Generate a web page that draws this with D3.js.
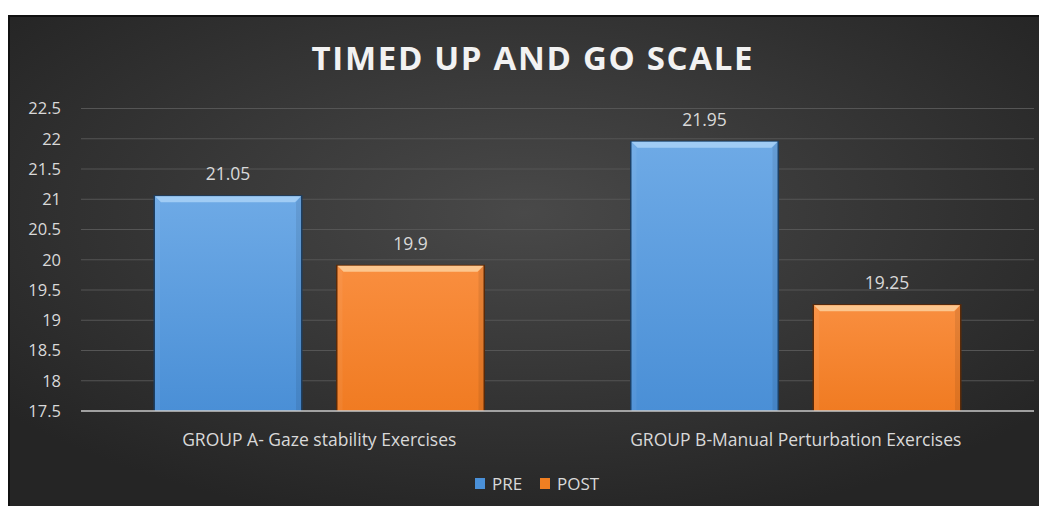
<!DOCTYPE html>
<html>
<head>
<meta charset="utf-8">
<script src="https://cdn.jsdelivr.net/npm/d3@7"></script>
<style>
body { margin: 0; background: #fff; }
svg text { font-family: "Open Sans", "Noto Sans", sans-serif; }
</style>
</head>
<body>
<script>
//data
var groups = ["GROUP A- Gaze stability Exercises", "GROUP B-Manual Perturbation Exercises"];
var seriesNames = ["PRE", "POST"];
var preValues = [21.05, 21.95];
var postValues = [19.9, 19.25];
var yTicks = [17.5, 18, 18.5, 19, 19.5, 20, 20.5, 21, 21.5, 22, 22.5];

window.onload = function(){
    var w = 1039, h = 506;
    var svg = d3.select("body").append("svg")
        .attr("width", w)
        .attr("height", h);

    var defs = svg.append("defs");
    //background gradient (lighter middle)
    var bg = defs.append("radialGradient").attr("id", "bg")
        .attr("cx", "0.5").attr("cy", "0.4").attr("r", "0.65");
    bg.append("stop").attr("offset", "0%").attr("stop-color", "#494949");
    bg.append("stop").attr("offset", "100%").attr("stop-color", "#252525");

    var blue = defs.append("linearGradient").attr("id", "blue")
        .attr("x1", 0).attr("y1", 0).attr("x2", 0).attr("y2", 1);
    blue.append("stop").attr("offset", "0%").attr("stop-color", "#6eaae6");
    blue.append("stop").attr("offset", "100%").attr("stop-color", "#4a8fd6");
    var orange = defs.append("linearGradient").attr("id", "orange")
        .attr("x1", 0).attr("y1", 0).attr("x2", 0).attr("y2", 1);
    orange.append("stop").attr("offset", "0%").attr("stop-color", "#f98e3f");
    orange.append("stop").attr("offset", "100%").attr("stop-color", "#f07b22");

    //frame
    svg.append("rect")
        .attr("x", 8).attr("y", 15)
        .attr("width", w - 8).attr("height", h - 15)
        .style("fill", "#111");
    svg.append("rect")
        .attr("x", 10).attr("y", 17)
        .attr("width", w - 10).attr("height", h - 17)
        .style("fill", "url(#bg)");

    /**** scales ****/
    var x0 = d3.scaleBand()
        .domain(groups)
        .range([81, 1034])
        .paddingInner(0)
        .paddingOuter(0);
    var x1 = d3.scaleBand()
        .domain(seriesNames)
        .range([74, x0.bandwidth() - 74])
        .paddingInner(0.2);
    var y = d3.scaleLinear()
        .domain([17.5, 22.5])
        .range([411, 108.5]);

    //gridlines
    svg.append("g")
        .selectAll("line")
        .data(yTicks.slice(1))
        .enter()
        .append("line")
        .attr("x1", 81).attr("x2", 1034)
        .attr("y1", function(d){ return y(d); })
        .attr("y2", function(d){ return y(d); })
        .style("stroke", "#555")
        .style("stroke-width", 1);

    //y axis labels
    var yAxis = d3.axisLeft(y)
        .tickValues(yTicks)
        .tickSize(0)
        .tickPadding(0)
        .tickFormat(function(d){ return d; });
    var ya = svg.append("g")
        .attr("transform", "translate(61,0)")
        .call(yAxis);
    ya.select(".domain").remove();
    ya.selectAll("text")
        .style("font-family", "'Open Sans', sans-serif")
        .style("font-size", "16.5px")
        .style("fill", "#d9d9d9");

    //title
    svg.append("text")
        .attr("x", 532)
        .attr("y", 70)
        .attr("text-anchor", "middle")
        .attr("textLength", 441)
        .style("font-size", "33px")
        .style("font-weight", "bold")
        .style("fill", "#f2f2f2")
        .text("TIMED UP AND GO SCALE");

    //bars
    var rows = groups.map(function(g, i){
        return [
            { group: g, series: "PRE", value: preValues[i], fill: "url(#blue)", edge: "#1d3f62", top: "#a9d2f7" },
            { group: g, series: "POST", value: postValues[i], fill: "url(#orange)", edge: "#5a2a08", top: "#fdd09c" }
        ];
    });
    var flat = [].concat.apply([], rows);

    var bars = svg.selectAll(".bar")
        .data(flat)
        .enter()
        .append("g")
        .attr("class", "bar")
        .attr("transform", function(d){
            return "translate(" + (x0(d.group) + x1(d.series)) + ",0)";
        });
    var bw = x1.bandwidth();
    bars.append("rect")
        .attr("x", -1.5)
        .attr("y", function(d){ return y(d.value) - 1; })
        .attr("width", bw + 3)
        .attr("height", function(d){ return y(17.5) - y(d.value) + 1; })
        .style("fill", function(d){ return d.edge; });
    bars.append("rect")
        .attr("x", 0)
        .attr("y", function(d){ return y(d.value); })
        .attr("width", bw)
        .attr("height", function(d){ return y(17.5) - y(d.value); })
        .style("fill", function(d){ return d.fill; });
    //bevel top strip
    bars.append("path")
        .attr("d", function(d){
            var t = y(d.value);
            return "M0," + t + "L" + bw + "," + t + "L" + (bw - 6) + "," + (t + 6) + "L6," + (t + 6) + "Z";
        })
        .style("fill", function(d){ return d.top; })
        .style("opacity", 0.85);
    //bevel sides
    bars.append("path")
        .attr("d", function(d){
            var t = y(d.value), b = y(17.5);
            return "M0," + t + "L5," + (t + 6) + "L5," + b + "L0," + b + "Z";
        })
        .style("fill", "#fff")
        .style("opacity", 0.05);
    bars.append("path")
        .attr("d", function(d){
            var t = y(d.value), b = y(17.5);
            return "M" + bw + "," + t + "L" + (bw - 5) + "," + (t + 6) + "L" + (bw - 5) + "," + b + "L" + bw + "," + b + "Z";
        })
        .style("fill", "#000")
        .style("opacity", 0.08);

    //value labels
    bars.append("text")
        .attr("x", bw / 2)
        .attr("y", function(d){ return y(d.value) - 16; })
        .attr("text-anchor", "middle")
        .style("font-size", "17.5px")
        .style("fill", "#d9d9d9")
        .text(function(d){ return d.value; });

    //baseline
    svg.append("line")
        .attr("x1", 81).attr("x2", 1034)
        .attr("y1", y(17.5)).attr("y2", y(17.5))
        .style("stroke", "#c8c8c8")
        .style("stroke-width", 1.5);

    //category labels
    svg.selectAll(".cat")
        .data(groups)
        .enter()
        .append("text")
        .attr("class", "cat")
        .attr("x", function(d){ return x0(d) + x0.bandwidth() / 2; })
        .attr("y", 446)
        .attr("text-anchor", "middle")
        .style("font-size", "17.5px")
        .style("fill", "#d9d9d9")
        .text(function(d){ return d; });

    //legend
    var legendX = [475, 540];
    var colors = ["#4a90d8", "#f07f22"];
    var legend = svg.selectAll(".legend")
        .data(seriesNames)
        .enter()
        .append("g")
        .attr("class", "legend")
        .attr("transform", function(d, i){ return "translate(" + legendX[i] + ",478)"; });
    legend.append("rect")
        .attr("width", 10).attr("height", 11)
        .style("fill", function(d, i){ return colors[i]; });
    legend.append("text")
        .attr("x", 17)
        .attr("y", 12)
        .style("font-size", "17px")
        .style("fill", "#d9d9d9")
        .text(function(d){ return d; });
};
</script>
</body>
</html>
